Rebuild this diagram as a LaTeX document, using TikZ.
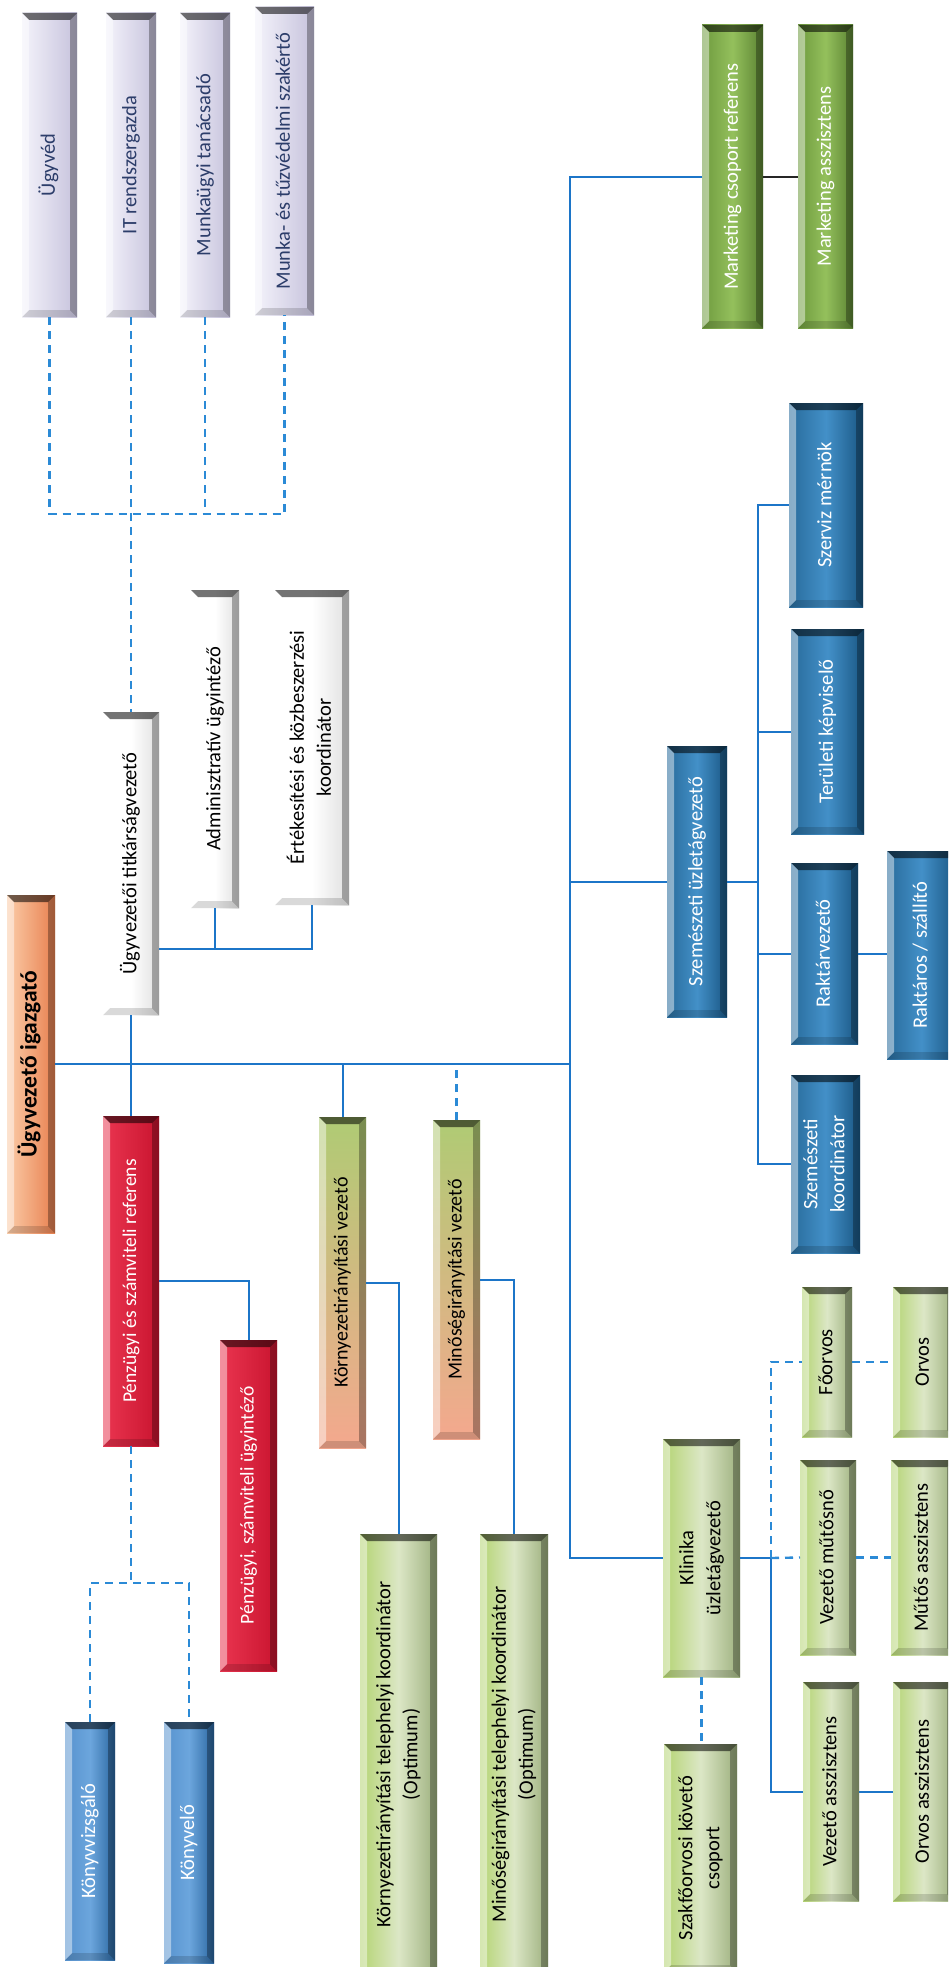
\documentclass[tikz,border=0pt]{standalone}
\usepackage{fontspec}
\setmainfont{Carlito}
\usepackage{graphicx}
\definecolor{lavL}{HTML}{F4F3FB}
\definecolor{lavR}{HTML}{C6C2DC}
\definecolor{lavT}{HTML}{2C3D6A}
\definecolor{orgL}{HTML}{FBCCA8}
\definecolor{orgR}{HTML}{E8804F}
\definecolor{redL}{HTML}{EA3550}
\definecolor{redR}{HTML}{C9142F}
\definecolor{lbL}{HTML}{5792CE}
\definecolor{lbM}{HTML}{6CA6DD}
\definecolor{lbR}{HTML}{2A66A0}
\definecolor{dbL}{HTML}{286B9B}
\definecolor{dbM}{HTML}{4390C8}
\definecolor{dbR}{HTML}{195683}
\definecolor{lgL}{HTML}{B4D472}
\definecolor{lgM}{HTML}{DCE7C6}
\definecolor{lgR}{HTML}{9CAF7D}
\definecolor{gsT}{HTML}{AFCB74}
\definecolor{gsB}{HTML}{F4A88E}
\definecolor{dgL}{HTML}{6E9A3E}
\definecolor{dgM}{HTML}{94C05C}
\definecolor{dgR}{HTML}{5A8232}
\definecolor{lineB}{HTML}{1C75C8}
\definecolor{dashB}{HTML}{2B8AD6}
\newcommand\obox[7]{%
  \pgfmathsetmacro\bxcx{(#3+#5)/2}%
  \pgfmathsetmacro\bxcy{(#4+#6)/2}%
  \pgfmathsetmacro\bxww{#5-#3}%
  \pgfmathsetmacro\bxhh{#6-#4}%
  \node[#1,minimum width=\bxww pt,minimum height=\bxhh pt] (#2) at (\bxcx,\bxcy)
    {\rotatebox{90}{\begin{tabular}{@{}c@{}}#7\end{tabular}}};}
\begin{document}
\begin{tikzpicture}[x=1pt,y=-1pt,
  bev/.style={inner sep=0pt,outer sep=0pt,
    path picture={
      \fill[black,fill opacity=.55] (path picture bounding box.north west) -- (path picture bounding box.north east)
        -- ([shift={(-7pt,-7pt)}]path picture bounding box.north east) -- ([shift={(7pt,-7pt)}]path picture bounding box.north west) -- cycle;
      \fill[black,fill opacity=.3] (path picture bounding box.north east) -- (path picture bounding box.south east)
        -- ([shift={(-7pt,7pt)}]path picture bounding box.south east) -- ([shift={(-7pt,-7pt)}]path picture bounding box.north east) -- cycle;
      \fill[black,fill opacity=.15] (path picture bounding box.south east) -- (path picture bounding box.south west)
        -- ([shift={(7pt,7pt)}]path picture bounding box.south west) -- ([shift={(-7pt,7pt)}]path picture bounding box.south east) -- cycle;
      \fill[white,fill opacity=.45] (path picture bounding box.south west) -- (path picture bounding box.north west)
        -- ([shift={(7pt,-7pt)}]path picture bounding box.north west) -- ([shift={(7pt,7pt)}]path picture bounding box.south west) -- cycle;
    }},
  lav/.style={bev,left color=lavL,right color=lavR,text=lavT,font=\fontsize{20.5}{27}\selectfont},
  wht/.style={bev,left color=white,right color=gray!25,middle color=white,text=black,font=\fontsize{20.5}{27}\selectfont},
  orgbox/.style={bev,left color=orgL,right color=orgR,text=black,font=\fontsize{23.5}{28}\selectfont\bfseries},
  redbox/.style={bev,left color=redL,right color=redR,text=white,font=\fontsize{19.5}{25}\selectfont},
  lbbox/.style={bev,left color=lbL,right color=lbR,middle color=lbM,text=white,font=\fontsize{20.5}{26}\selectfont},
  dbbox/.style={bev,left color=dbL,right color=dbR,middle color=dbM,text=white,font=\fontsize{20.5}{27}\selectfont},
  lgbox/.style={bev,left color=lgL,right color=lgR,middle color=lgM,text=black,font=\fontsize{20.5}{27}\selectfont},
  gsbox/.style={bev,top color=gsT,bottom color=gsB,text=black,font=\fontsize{20}{26}\selectfont},
  dgbox/.style={bev,left color=dgL,right color=dgR,middle color=dgM,text=white,font=\fontsize{20.5}{27}\selectfont},
  ln/.style={draw=lineB,line width=2pt},
  dsh/.style={draw=dashB,line width=2.4pt,dash pattern=on 8pt off 6pt},
  blk/.style={draw=black!85,line width=2pt}
]
\useasboundingbox (0,0) rectangle (948,1967);
\fill[white] (0,0) rectangle (948,1967);
\clip (0,0) rectangle (948,1967);

% lavender advisors
\obox{lav}{ugyved}{22}{13}{77}{317}{Ügyvéd}
\obox{lav}{it}{106}{13}{156}{317}{IT rendszergazda}
\obox{lav}{munkaugyi}{180}{13}{230}{317}{Munkaügyi tanácsadó}
\obox{lav}{munkatuz}{255}{7}{314}{315}{Munka- és tűzvédelmi szakértő}

% top management
\obox{orgbox}{igazgato}{7}{895}{55}{1233}{Ügyvezető igazgató}
\obox{wht}{titkarsag}{103}{712}{159}{1015}{Ügyvezetői titkárságvezető}
\obox{wht}{admin}{191}{590}{239}{908}{Adminisztratív ügyintéző}
\obox{wht}{ertek}{275}{590}{349}{905}{Értékesítési és közbeszerzési\\koordinátor}

% finance
\obox{redbox}{penzref}{103}{1116}{159}{1446}{Pénzügyi és számviteli referens}
\obox{redbox}{penzugy}{220}{1340}{277}{1671}{Pénzügyi, számviteli ügyintéző}
\obox{lbbox}{konyvvizsgalo}{65}{1722}{115}{1960}{Könyvvizsgáló}
\obox{lbbox}{konyvelo}{164}{1722}{214}{1963}{Könyvelő}

% environment / quality
\obox{gsbox}{kornyvez}{319}{1117}{366}{1448}{Környezetirányítási vezető}
\obox{gsbox}{minvez}{433}{1120}{480}{1439}{Minőségirányítási vezető}
\obox{lgbox}{kornykoord}{360}{1534}{437}{1975}{Környezetirányítási telephelyi koordinátor\\(Optimum)}
\obox{lgbox}{minkoord}{480}{1534}{548}{1975}{Minőségirányítási telephelyi koordinátor\\(Optimum)}

% clinic
\obox{lgbox}{klinika}{663}{1439}{740}{1677}{Klinika\\üzletágvezető}
\obox{lgbox}{szakfo}{664}{1744}{737}{1972}{Szakfőorvosi követő\\csoport}
\obox{lgbox}{foorvos}{802}{1287}{852}{1437}{Főorvos}
\obox{lgbox}{vezmut}{800}{1460}{856}{1655}{Vezető műtősnő}
\obox{lgbox}{vezassz}{803}{1682}{859}{1901}{Vezető asszisztens}
\obox{lgbox}{orvos}{893}{1287}{954}{1437}{Orvos}
\obox{lgbox}{mutassz}{891}{1460}{954}{1655}{Műtős asszisztens}
\obox{lgbox}{orvassz}{893}{1682}{954}{1901}{Orvos asszisztens}

% ophthalmology
\obox{dbbox}{szemuzl}{667}{746}{727}{1017}{Szemészeti üzletágvezető}
\obox{dbbox}{szerviz}{789}{403}{863}{607}{Szerviz mérnök}
\obox{dbbox}{teruleti}{791}{629}{864}{834}{Területi képviselő}
\obox{dbbox}{raktvez}{791}{863}{858}{1044}{Raktárvezető}
\obox{dbbox}{raktaros}{887}{851}{956}{1059}{Raktáros / szállító}
\obox{dbbox}{szemkoord}{791}{1075}{860}{1253}{Szemészeti\\koordinátor}

% marketing
\obox{dgbox}{mktref}{702}{25}{763}{328}{Marketing csoport referens}
\obox{dgbox}{mktassz}{798}{25}{853}{328}{Marketing asszisztens}

% connectors
\coordinate (bus) at (570,1064);
\coordinate (tk) at (312,949);
\coordinate (pd) at (131,1583);
\coordinate (ld) at (131,514);
\coordinate (kv) at (771,1558);
\coordinate (sv) at (758,882);

\draw[ln] (igazgato.east) -- (bus);
\draw[ln] (mktref.west) -| (bus);
\draw[ln] (bus) |- (klinika.west);
\draw[ln] (szemuzl.west) -- (szemuzl.west -| bus);
\draw[ln] (titkarsag.south) -- (penzref.north);
\draw[ln] (titkarsag.east |- tk) -- (tk) -- (ertek.south);
\draw[ln] (admin.south) -- (admin.south |- tk);
\draw[ln] (kornyvez.north) -- (kornyvez.north |- bus);
\draw[dsh] (minvez.north) -- (minvez.north |- bus);
\draw[ln] (kornyvez.east) -| (kornykoord.north);
\draw[ln] (minvez.east) -| (minkoord.north);
\draw[ln] (penzref.east) -| (penzugy.north);
\draw[dsh] (penzref.south) -- (pd);
\draw[dsh] (konyvvizsgalo.north) |- (pd) -| (konyvelo.north);
\draw[dsh] (ugyved.south) |- (ld) -| (munkatuz.south);
\draw[dsh] (it.south) -- (titkarsag.north);
\draw[dsh] (munkaugyi.south) -- (munkaugyi.south |- ld);
\draw[ln] (klinika.east) -- (kv) |- (vezassz.west);
\draw[dsh] (kv) |- (foorvos.west);
\draw[dsh] (kv) -- (vezmut.west);
\draw[dsh] (foorvos.east) -- (orvos.west);
\draw[dsh] (vezmut.east) -- (mutassz.west);
\draw[ln] (vezassz.east) -- (orvassz.west);
\draw[dsh] (klinika.south) -- (klinika.south |- szakfo.north);
\draw[ln] (szemuzl.east) -- (szemuzl.east -| sv);
\draw[ln] (szerviz.west) -| (sv |- szemkoord.west) -- (szemkoord.west);
\draw[ln] (teruleti.west) -- (teruleti.west -| sv);
\draw[ln] (raktvez.west) -- (raktvez.west -| sv);
\draw[ln] (raktvez.east) -- (raktvez.east -| raktaros.west);
\draw[blk] (mktref.east) -- (mktassz.west);
\end{tikzpicture}
\end{document}
